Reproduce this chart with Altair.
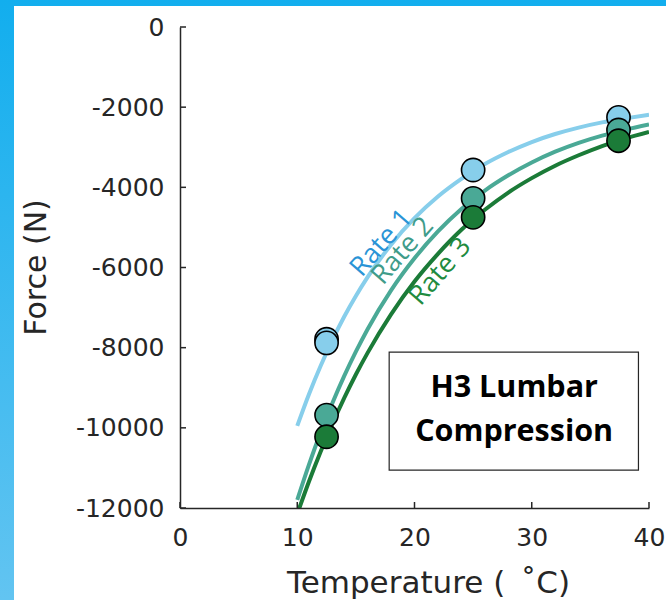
import altair as alt
import pandas as pd

# ---- data ----
series = ["Rate 1", "Rate 2", "Rate 3"]

curve_temps = [10, 11, 12, 13, 14, 15, 16, 18, 20, 22, 24, 26, 28, 30, 32, 34, 36, 38, 40]
rate1_curve = [-9950, -9160, -8450, -7810, -7230, -6710, -6240, -5430, -4770, -4230,
               -3790, -3420, -3120, -2870, -2670, -2510, -2380, -2280, -2190]
rate2_curve = [-11800, -10920, -10110, -9380, -8710, -8100, -7540, -6570, -5770, -5100,
               -4540, -4080, -3700, -3380, -3110, -2890, -2710, -2560, -2430]
rate3_curve = [-12150, -11340, -10590, -9900, -9260, -8670, -8130, -7170, -6350, -5660,
               -5060, -4560, -4130, -3770, -3460, -3200, -2970, -2780, -2620]

rate1_temps = [12.5, 12.5, 25, 37.4]
rate1_force = [-7790, -7880, -3568, -2254]
rate2_temps = [12.5, 25, 37.4]
rate2_force = [-9681, -4275, -2570]
rate3_temps = [12.5, 25, 37.4]
rate3_force = [-10222, -4748, -2837]

label_temps = [17.2, 19.0, 22.2]
label_force = [-5390, -5590, -6105]

box_lines = ["H3 Lumbar", "Compression"]
box_line_force = [-9010, -10100]
box_center_temp = 28.5
box_temp_range = [17.84, 39.1]
box_force_range = [-8109, -11053]

x_ticks = [0, 10, 20, 30, 40]
y_ticks = [0, -2000, -4000, -6000, -8000, -10000, -12000]

# ---- styling ----
line_colors = ["#87CEEB", "#4AA996", "#1B7B38"]
text_colors = ["#2A94D6", "#3F9C8A", "#1F8B40"]
axis_color = "#262626"
W, H = 469, 481
hyphen_labels = "datum.value < 0 ? '-' + format(abs(datum.value), 'd') : format(datum.value, 'd')"

curves = pd.DataFrame({
    "temp": curve_temps * 3,
    "force": rate1_curve + rate2_curve + rate3_curve,
    "series": [series[0]] * len(curve_temps) + [series[1]] * len(curve_temps) + [series[2]] * len(curve_temps),
})
points = pd.DataFrame({
    "temp": rate1_temps + rate2_temps + rate3_temps,
    "force": rate1_force + rate2_force + rate3_force,
    "series": [series[0]] * len(rate1_temps) + [series[1]] * len(rate2_temps) + [series[2]] * len(rate3_temps),
})

xscale = alt.Scale(domain=[0, 40], nice=False, zero=False)
yscale = alt.Scale(domain=[-12000, 0], nice=False, zero=False)
cscale = alt.Scale(domain=series, range=line_colors)

xaxis = alt.Axis(values=x_ticks, labelExpr=hyphen_labels, grid=False, ticks=False, domainColor=axis_color,
                 domainWidth=1.5, labelFont="DejaVu Sans", labelFontSize=25, labelColor=axis_color,
                 labelPadding=17, labelFlush=False, title="Temperature (\u2002\u02daC)",
                 titleFont="DejaVu Sans", titleFontSize=31, titleFontWeight="normal",
                 titleColor=axis_color, titleBaseline="alphabetic", titleY=84, titleX=248, zindex=1)
yaxis = alt.Axis(values=y_ticks, labelExpr=hyphen_labels, grid=False, ticks=False, domainColor=axis_color,
                 domainWidth=1.5, labelFont="DejaVu Sans", labelFontSize=25, labelColor=axis_color,
                 labelPadding=16, labelFlush=False, title="Force (N)",
                 titleFont="DejaVu Sans", titleFontSize=30, titleFontWeight="normal",
                 titleColor=axis_color, titleBaseline="alphabetic", titleAngle=270,
                 titleX=-135, titleY=240, titleAlign="center", zindex=1)

one = pd.DataFrame({"k": [0]})

frame_bg = alt.Chart(one).mark_rect(
    color=alt.Gradient(gradient="linear",
                       stops=[alt.GradientStop(color="#12AEEE", offset=0),
                              alt.GradientStop(color="#62C4F1", offset=1)],
                       x1=0, x2=0, y1=0, y2=1)
).encode(x=alt.value(-180), x2=alt.value(486), y=alt.value(-27), y2=alt.value(573))

white_bg = alt.Chart(one).mark_rect(color="white").encode(
    x=alt.value(-166), x2=alt.value(486), y=alt.value(-21), y2=alt.value(573))

box = alt.Chart(pd.DataFrame({
    "x1": [box_temp_range[0]], "x2": [box_temp_range[1]],
    "y1": [box_force_range[0]], "y2": [box_force_range[1]]})).mark_rect(
    fill="white", stroke=axis_color, strokeWidth=1.2
).encode(x=alt.X("x1:Q", scale=xscale, axis=xaxis), x2="x2:Q",
         y=alt.Y("y1:Q", scale=yscale, axis=yaxis), y2="y2:Q")

box_text = alt.Chart(pd.DataFrame({"txt": box_lines, "force": box_line_force,
                                   "temp": [box_center_temp] * 2})).mark_text(
    font="Open Sans", fontSize=30.5, fontWeight="bold", color="black", align="center", baseline="middle"
).encode(x=alt.X("temp:Q", scale=xscale), y=alt.Y("force:Q", scale=yscale), text="txt:N")

lines = alt.Chart(curves).mark_line(strokeWidth=4, clip=True, interpolate="monotone").encode(
    x=alt.X("temp:Q", scale=xscale),
    y=alt.Y("force:Q", scale=yscale),
    color=alt.Color("series:N", scale=cscale, legend=None),
    detail="series:N",
)

dots = alt.Chart(points).mark_circle(size=540, stroke="black", strokeWidth=1.6, opacity=1).encode(
    x=alt.X("temp:Q", scale=xscale),
    y=alt.Y("force:Q", scale=yscale),
    color=alt.Color("series:N", scale=cscale, legend=None),
    order=alt.Order("series:N"),
)

labels = []
for i, s in enumerate(series):
    labels.append(
        alt.Chart(pd.DataFrame({"temp": [label_temps[i]], "force": [label_force[i]], "txt": [s]}))
        .mark_text(font="Open Sans", fontSize=27, color=text_colors[i], angle=311,
                   align="center", baseline="middle")
        .encode(x=alt.X("temp:Q", scale=xscale), y=alt.Y("force:Q", scale=yscale), text="txt:N")
    )

xtick_marks = alt.Chart(pd.DataFrame({"t": x_ticks})).mark_rule(color=axis_color, strokeWidth=1.5).encode(
    x=alt.X("t:Q", scale=xscale), y=alt.value(H), y2=alt.value(H - 6))
ytick_marks = alt.Chart(pd.DataFrame({"t": y_ticks})).mark_rule(color=axis_color, strokeWidth=1.5).encode(
    y=alt.Y("t:Q", scale=yscale), x=alt.value(0), x2=alt.value(6))

chart = alt.layer(
    frame_bg, white_bg, box, box_text, lines, dots, *labels, xtick_marks, ytick_marks
).resolve_scale(color="shared").properties(
    width=W, height=H,
    padding={"left": 180, "top": 27, "right": 17, "bottom": 92},
    autosize="none",
    background="white",
).configure_view(stroke="transparent")

chart.save("out.html", embed_options={"renderer": "svg", "actions": False})
